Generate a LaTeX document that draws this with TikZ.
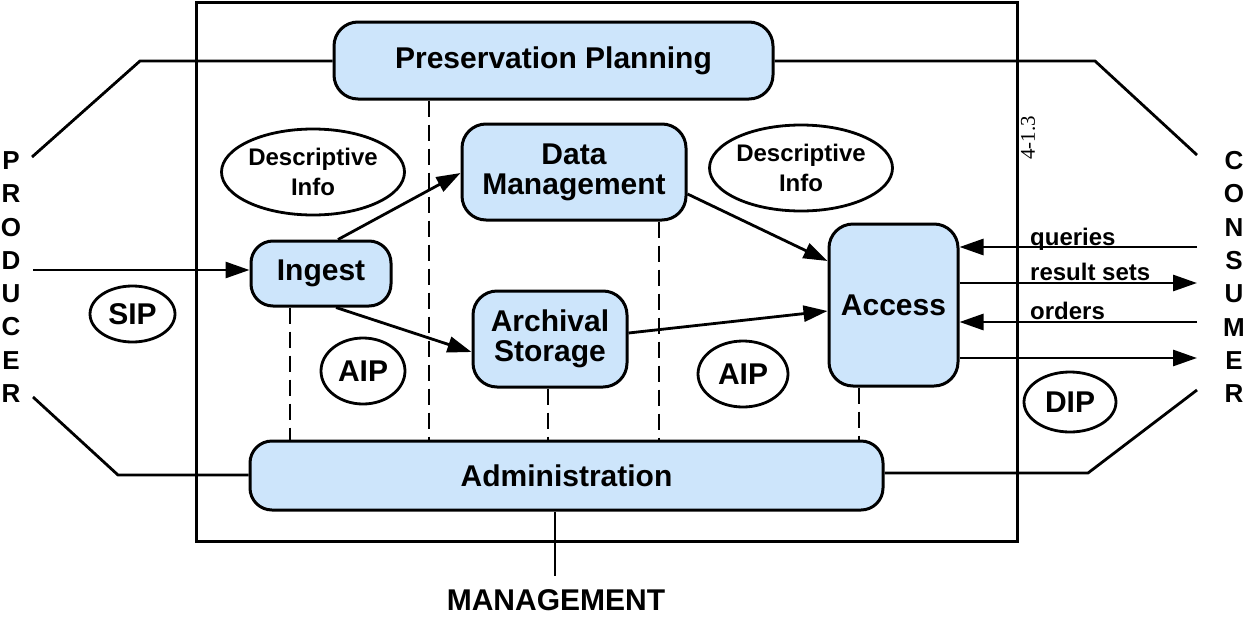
\documentclass[tikz,border=0pt]{standalone}
\usepackage{fontspec}
\setmainfont{Liberation Sans}
\newfontfamily\serifnum{Liberation Serif}
\usetikzlibrary{arrows.meta,shapes.geometric}
\definecolor{boxblue}{RGB}{205,229,251}
\tikzset{
  box/.style={draw=black, line width=3pt, fill=boxblue, rounded corners=24pt, inner sep=0pt,
    font=\fontsize{30}{30}\selectfont\bfseries, align=center},
  oval/.style={draw=black, line width=2.8pt, ellipse, inner sep=0pt, align=center},
  bigtxt/.style={font=\fontsize{30}{30}\selectfont\bfseries},
  midtxt/.style={font=\fontsize{24}{30}\selectfont\bfseries},
  edge/.style={line width=2.8pt},
  flow/.style={line width=2.8pt, -{Triangle[length=24pt,width=16pt]}},
  dline/.style={line width=2.8pt, dash pattern=on 16pt off 8pt},
  vletters/.style={font=\fontsize{26}{33.3}\selectfont\bfseries, align=center, inner sep=0pt}
}
\begin{document}
\begin{tikzpicture}[x=1pt,y=-1pt]
\useasboundingbox (0,0) rectangle (1246,616);
% outer box
\node[draw=black, line width=3pt, minimum width=821pt, minimum height=539pt, inner sep=0pt] (frame) at (606.5,271.5) {};
% boxes
\node[box, minimum width=439pt, minimum height=77pt] (pp) at (553.5,60.5) {Preservation Planning};
\node[box, minimum width=224pt, minimum height=96pt] (dm) at (574,172) {Data\\Management};
\node[box, minimum width=140pt, minimum height=65pt, rounded corners=22pt] (ingest) at (321,273.5) {Ingest};
\node[box, minimum width=154pt, minimum height=96pt] (as) at (550,339) {Archival\\Storage};
\node[box, minimum width=129pt, minimum height=162pt] (access) at (893.5,305) {Access};
\node[box, minimum width=633pt, minimum height=69pt, rounded corners=22pt] (admin) at (566.5,475.5) {Administration};
% ellipses
\node[oval, midtxt, minimum width=180pt, minimum height=86pt] (di1) at (313,172) {Descriptive\\Info};
\node[oval, midtxt, minimum width=182pt, minimum height=86pt] (di2) at (801,168) {Descriptive\\Info};
\node[oval, bigtxt, minimum width=85pt, minimum height=56pt] (sip) at (132.5,314) {SIP};
\node[oval, bigtxt, minimum width=84pt, minimum height=66pt] (aip1) at (363,371) {AIP};
\node[oval, bigtxt, minimum width=90pt, minimum height=66pt] (aip2) at (743,374) {AIP};
\node[oval, bigtxt, minimum width=92pt, minimum height=60pt] (dip) at (1070,402) {DIP};
% side labels
\node[vletters] (producer) at (11,277) {P\\R\\O\\D\\U\\C\\E\\R};
\node[vletters] (consumer) at (1234,277) {C\\O\\N\\S\\U\\M\\E\\R};
\node[bigtxt, inner sep=0pt, anchor=base] (mgmt) at (556,610) {MANAGEMENT};
\node[rotate=90, font=\serifnum\fontsize{21}{21}\selectfont, inner sep=0pt] (ref) at (1028,138) {4-1.3};
% producer / consumer connector coordinates
\coordinate (pt1) at (32,157);
\coordinate (pt2) at (140,61);
\coordinate (pb1) at (33,397);
\coordinate (pb2) at (118,475);
\coordinate (ct1) at (1197,155);
\coordinate (ct2) at (1095,61);
\coordinate (cb1) at (1197,390);
\coordinate (cb2) at (1088,473);
\coordinate (parr) at (33,270);
\coordinate (cq) at (1197,247);
\coordinate (cr) at (1197,283);
\coordinate (co) at (1197,322);
\coordinate (cd) at (1197,358);
\coordinate (mend) at (555,576);
% outline connectors
\draw[edge] (pt1) -- (pt2) -- (pt2 -| pp.west);
\draw[edge] (pb1) -- (pb2) -- (pb2 -| admin.west);
\draw[edge] (pp.east |- ct2) -- (ct2) -- (ct1);
\draw[edge] (admin.east |- cb2) -- (cb2) -- (cb1);
\draw[edge] (555,0 |- admin.south) -- (mend);
% flows
\draw[flow] (parr) -- (ingest.west |- parr);
\draw[flow] (338,0 |- ingest.north) -- (dm.west |- 0,173);
\draw[flow] (336,0 |- ingest.south) -- (as.west |- 0,352);
\draw[flow] (dm.east |- 0,194) -- (access.west |- 0,261);
\draw[flow] (as.east |- 0,333) -- (access.west |- 0,311);
\draw[flow] (cq) -- (access.east |- cq);
\draw[flow] (access.east |- cr) -- (cr);
\draw[flow] (co) -- (access.east |- co);
\draw[flow] (access.east |- cd) -- (cd);
% flow labels
\node[midtxt, anchor=base west, inner sep=0pt] (lq) at (1030,245) {queries};
\node[midtxt, anchor=base west, inner sep=0pt] (lr) at (1030,280) {result sets};
\node[midtxt, anchor=base west, inner sep=0pt] (lo) at (1030,319) {orders};
% dashed lines
\draw[dline] (290,0 |- ingest.south) -- (290,0 |- admin.north);
\draw[dline] (429,0 |- pp.south) -- (429,0 |- admin.north);
\draw[dline] (548,0 |- as.south) -- (548,0 |- admin.north);
\draw[dline] (659,0 |- dm.south) -- (659,0 |- admin.north);
\draw[dline] (859,0 |- access.south) -- (859,0 |- admin.north);
\end{tikzpicture}
\end{document}
